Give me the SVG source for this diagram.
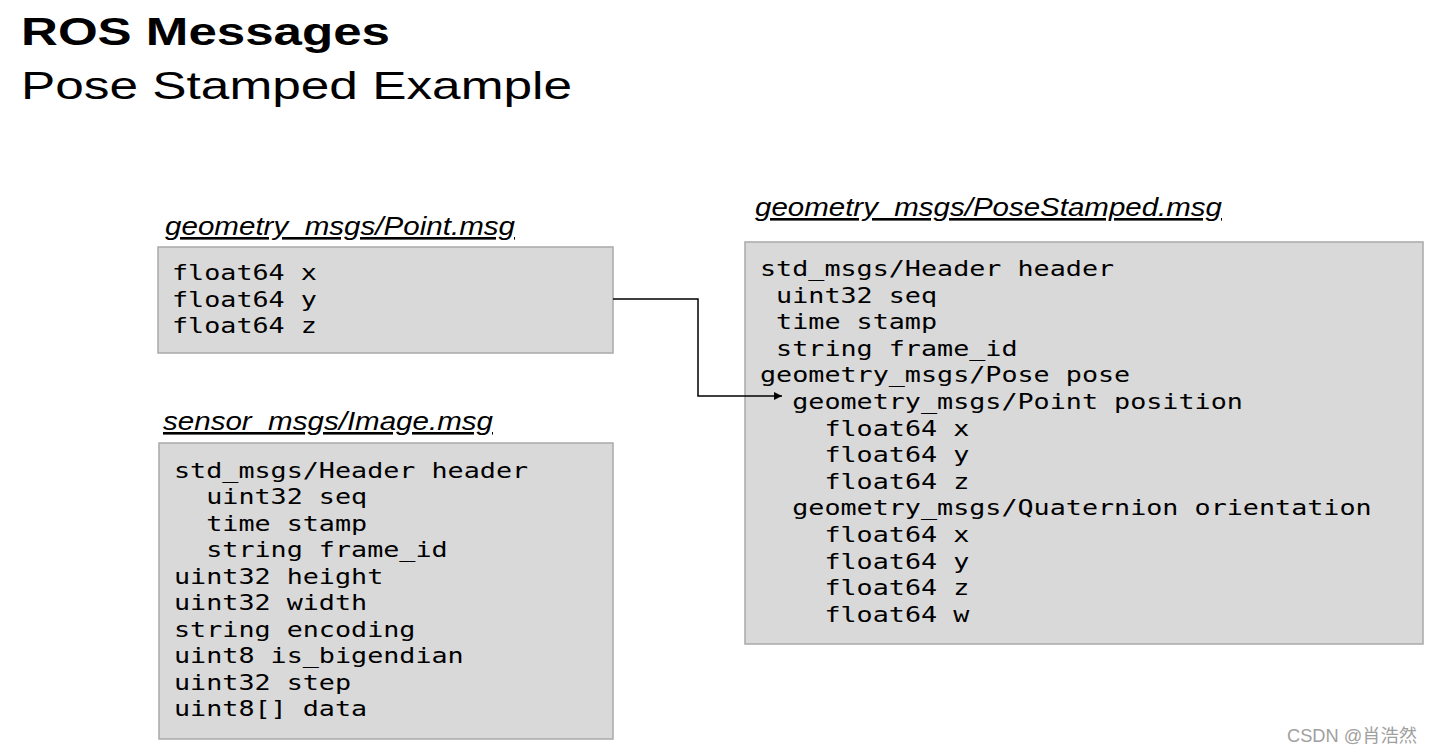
<svg xmlns="http://www.w3.org/2000/svg" width="1432" height="752" viewBox="0 0 1432 752">
<style>
.box{fill:#d9d9d9;stroke:#a9a9a9;stroke-width:1.5}
.mono{font-family:"DejaVu Sans Mono","Liberation Mono",monospace;font-size:21px;fill:#000}
.sub{font-family:"Liberation Sans",Arial,sans-serif;font-style:italic;font-size:26px;fill:#000;text-decoration:underline}
.conn{fill:none;stroke:#000;stroke-width:1.5}
</style>
<defs>
<marker id="arr" viewBox="0 0 10 10" refX="10" refY="5" markerWidth="8" markerHeight="8" markerUnits="userSpaceOnUse" orient="auto">
<path d="M0,0 L10,5 L0,10 z" fill="#000"/>
</marker>
</defs>
<rect width="1432" height="752" fill="#fff"/>
<g id="title">
<text x="21" y="45" font-family="Liberation Sans,Arial,sans-serif" font-weight="bold" font-size="38" textLength="369" lengthAdjust="spacingAndGlyphs">ROS Messages</text>
<text x="21" y="99" font-family="Liberation Sans,Arial,sans-serif" font-size="39" textLength="551" lengthAdjust="spacingAndGlyphs">Pose Stamped Example</text>
</g>
<g id="point">
<text class="sub" x="165" y="235" textLength="350" lengthAdjust="spacingAndGlyphs">geometry_msgs/Point.msg</text>
<rect class="box" x="158" y="247" width="455" height="106"/>
<g transform="translate(172 0) scale(1.274 1)" class="mono">
<text x="0" y="280">float64 x</text>
<text x="0" y="306.7">float64 y</text>
<text x="0" y="333.3">float64 z</text>
</g>
</g>
<g id="image">
<text class="sub" x="163" y="430" textLength="330" lengthAdjust="spacingAndGlyphs">sensor_msgs/Image.msg</text>
<rect class="box" x="159" y="443" width="454" height="296"/>
<g transform="translate(174 0) scale(1.274 1)" class="mono">
<text x="0" y="478">std_msgs/Header header</text>
<text x="25.28" y="504.5">uint32 seq</text>
<text x="25.28" y="531">time stamp</text>
<text x="25.28" y="557.5">string frame_id</text>
<text x="0" y="584">uint32 height</text>
<text x="0" y="610.5">uint32 width</text>
<text x="0" y="637">string encoding</text>
<text x="0" y="663.5">uint8 is_bigendian</text>
<text x="0" y="690">uint32 step</text>
<text x="0" y="716.5">uint8[] data</text>
</g>
</g>
<g id="posestamped">
<text class="sub" x="755" y="216" textLength="467" lengthAdjust="spacingAndGlyphs">geometry_msgs/PoseStamped.msg</text>
<rect class="box" x="745" y="242" width="678" height="402"/>
<g transform="translate(760 0) scale(1.274 1)" class="mono">
<text x="0" y="276">std_msgs/Header header</text>
<text x="12.64" y="302.6">uint32 seq</text>
<text x="12.64" y="329.2">time stamp</text>
<text x="12.64" y="355.8">string frame_id</text>
<text x="0" y="382.4">geometry_msgs/Pose pose</text>
<text x="25.28" y="409">geometry_msgs/Point position</text>
<text x="50.57" y="435.6">float64 x</text>
<text x="50.57" y="462.2">float64 y</text>
<text x="50.57" y="488.8">float64 z</text>
<text x="25.28" y="515.4">geometry_msgs/Quaternion orientation</text>
<text x="50.57" y="542">float64 x</text>
<text x="50.57" y="568.6">float64 y</text>
<text x="50.57" y="595.2">float64 z</text>
<text x="50.57" y="621.8">float64 w</text>
</g>
</g>
<g id="connectors">
<path class="conn" d="M613,299 H698 V396 H782" marker-end="url(#arr)"/>
</g>
<text x="1287" y="742" font-family="Liberation Sans,'Noto Sans CJK SC',sans-serif" font-size="18" fill="#a0a0a0" textLength="130" lengthAdjust="spacingAndGlyphs">CSDN @肖浩然</text>
</svg>
